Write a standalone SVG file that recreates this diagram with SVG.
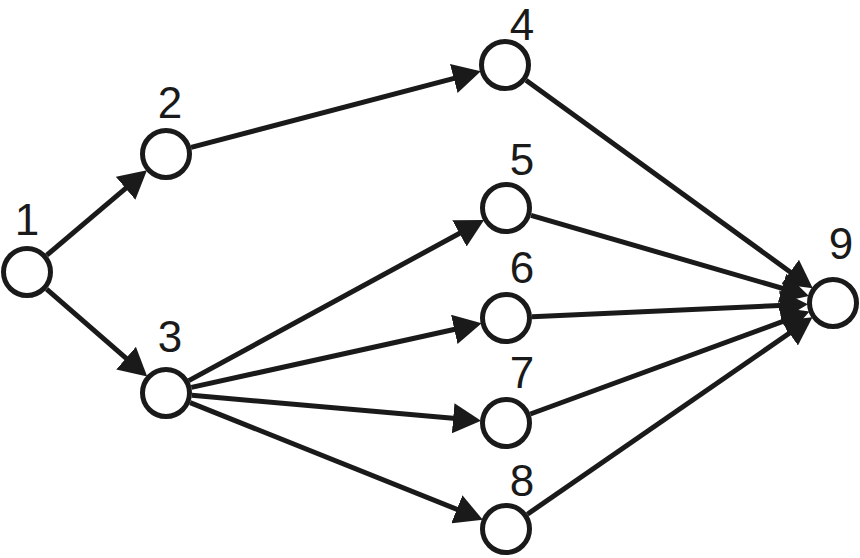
<svg xmlns="http://www.w3.org/2000/svg" width="860" height="558" viewBox="0 0 860 558">
<style>
.node circle{fill:#fff;stroke:#1a1a1a;stroke-width:5}
.node text{font-family:"Liberation Sans",Arial,sans-serif;font-size:44px;fill:#1a1a1a;text-anchor:middle}
#edges line{stroke:#1a1a1a;stroke-width:5;marker-end:url(#ah)}
</style>
<defs>
<marker id="ah" markerUnits="userSpaceOnUse" markerWidth="30" markerHeight="30" viewBox="0 0 30 30" refX="17" refY="15" orient="auto">
<path d="M0,0 L28,15 L0,30 z" fill="#1a1a1a"/>
</marker>
</defs>
<rect width="860" height="558" fill="#fff"/>
<g id="edges">
<line x1="46.8" y1="255.2" x2="138.6" y2="177.3"/>
<line x1="46.6" y1="289.1" x2="138.9" y2="369.3"/>
<line x1="191.1" y1="147.4" x2="470.2" y2="74.1"/>
<line x1="188.8" y1="380.6" x2="474.4" y2="225.2"/>
<line x1="191.4" y1="387.4" x2="470.9" y2="325.7"/>
<line x1="191.9" y1="395.3" x2="470.1" y2="419.8"/>
<line x1="190.1" y1="402.6" x2="472.6" y2="515.6"/>
<line x1="526.0" y1="80.3" x2="803.9" y2="281.9"/>
<line x1="531.0" y1="215.3" x2="798.4" y2="293.0"/>
<line x1="532.0" y1="316.8" x2="797.0" y2="304.7"/>
<line x1="530.4" y1="414.0" x2="799.2" y2="315.4"/>
<line x1="527.4" y1="514.2" x2="803.4" y2="323.5"/>
</g>
<g id="n1" class="node"><circle cx="27" cy="272" r="23.5"/><text x="27" y="235">1</text></g>
<g id="n2" class="node"><circle cx="166" cy="154" r="23.5"/><text x="170" y="118">2</text></g>
<g id="n3" class="node"><circle cx="166" cy="393" r="23.5"/><text x="170" y="352">3</text></g>
<g id="n4" class="node"><circle cx="505" cy="65" r="23.5"/><text x="522" y="40">4</text></g>
<g id="n5" class="node"><circle cx="506" cy="208" r="23.5"/><text x="522" y="175">5</text></g>
<g id="n6" class="node"><circle cx="506" cy="318" r="23.5"/><text x="522" y="283">6</text></g>
<g id="n7" class="node"><circle cx="506" cy="423" r="23.5"/><text x="522" y="388">7</text></g>
<g id="n8" class="node"><circle cx="506" cy="529" r="23.5"/><text x="522" y="496">8</text></g>
<g id="n9" class="node"><circle cx="833" cy="303" r="23.5"/><text x="841" y="259">9</text></g>
</svg>
